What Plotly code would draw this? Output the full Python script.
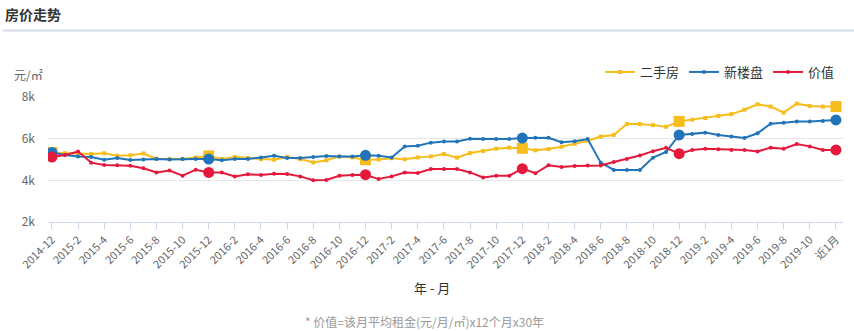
import plotly.graph_objects as go

# ---- data ----
months = ["2014-12"] + [f"{y}-{m}" for y in range(2015, 2020) for m in range(1, 13)][:59] + ["近1月"]

second_hand = [5330, 5300, 5300, 5260, 5300, 5180, 5200, 5290, 5040, 5020, 5030, 5100, 5170,
               5020, 5120, 5070, 5020, 4990, 5120, 5020, 4860, 4960, 5150, 5100, 4990,
               5000, 5060, 5010, 5100, 5150, 5260, 5090, 5310, 5410, 5520, 5570, 5540,
               5440, 5500, 5610, 5750, 5900, 6100, 6180, 6700, 6700, 6650, 6570, 6830,
               6910, 6990, 7090, 7180, 7390, 7650, 7540, 7250, 7680, 7570, 7540, 7540]

new_homes = [5340, 5220, 5150, 5120, 4990, 5070, 4980, 5000, 5020, 5000, 5020, 5030, 5020,
             4960, 5020, 5020, 5100, 5180, 5070, 5070, 5120, 5170, 5140, 5140, 5200,
             5180, 5100, 5630, 5660, 5810, 5860, 5870, 6000, 5990, 5990, 5990, 6030,
             6040, 6040, 5830, 5880, 5980, 4850, 4500, 4500, 4500, 5090, 5360, 6180,
             6220, 6290, 6180, 6110, 6030, 6260, 6720, 6770, 6830, 6830, 6850, 6900]

value = [5120, 5220, 5380, 4850, 4740, 4720, 4700, 4580, 4380, 4470, 4220, 4510, 4380,
         4380, 4190, 4290, 4260, 4320, 4300, 4190, 4000, 4020, 4220, 4260, 4270,
         4060, 4190, 4380, 4350, 4540, 4540, 4540, 4380, 4140, 4220, 4220, 4560,
         4340, 4720, 4640, 4690, 4710, 4710, 4880, 5030, 5190, 5400, 5560, 5280,
         5460, 5520, 5490, 5460, 5460, 5380, 5570, 5520, 5740, 5630, 5460, 5460]

series_names = ["二手房", "新楼盘", "价值"]
y_tick_vals = [2000, 4000, 6000, 8000]
y_tick_text = ["2k", "4k", "6k", "8k"]

colors = ["#f6bd1c", "#2174ba", "#e5193c"]
symbols = ["square", "circle", "circle"]

FONT = "Noto Sans CJK SC, Open Sans, sans-serif"

fig = go.Figure()
big_idx = [i for i in range(len(months)) if i % 12 == 0 or i == len(months) - 1]
for name, ys, c, s in zip(series_names, [second_hand, new_homes, value], colors, symbols):
    fig.add_trace(go.Scatter(
        x=months, y=ys, name=name, mode="lines+markers",
        line=dict(color=c, width=2),
        marker=dict(color=c, size=4, symbol=s),
        hoverinfo="skip",
    ))
    fig.add_trace(go.Scatter(
        x=[months[i] for i in big_idx], y=[ys[i] for i in big_idx],
        mode="markers", showlegend=False,
        marker=dict(color=c, size=11, symbol=s),
        hoverinfo="skip",
    ))

L, R, T, B = 48, 11, 97, 109
W, H = 854, 331
pw, ph = W - L - R, H - T - B

def px(x):
    return (x - L) / pw

def py(y):
    return (H - B - y) / ph

fig.update_layout(
    width=W, height=H,
    margin=dict(l=L, r=R, t=T, b=B),
    paper_bgcolor="white", plot_bgcolor="white",
    font=dict(family=FONT, color="#666666", size=12),
    showlegend=True,
    legend=dict(orientation="h", x=px(840), xanchor="right", y=py(72), yanchor="middle",
                font=dict(size=13, color="#333333"), itemwidth=30,
                bgcolor="rgba(0,0,0,0)"),
    xaxis=dict(
        type="category",
        range=[-0.3, 60.54],
        tickmode="array",
        tickvals=[months[i] for i in range(0, len(months), 2)],
        ticktext=[months[i] for i in range(0, len(months), 2)],
        tickangle=-45,
        tickfont=dict(size=11, color="#666666"),
        ticks="outside", ticklen=6, tickcolor="#ccd6eb",
        showline=True, linecolor="#ccd6eb", linewidth=1,
        showgrid=False, zeroline=False,
    ),
    yaxis=dict(
        range=[2000, 8000],
        tickmode="array", tickvals=y_tick_vals, ticktext=y_tick_text,
        tickfont=dict(size=12, color="#666666"),
        ticks="", ticklabelstandoff=12,
        showgrid=True, gridcolor="#e6e6e6", gridwidth=1,
        zeroline=False, showline=False,
    ),
    annotations=[
        dict(text="<b>房价走势</b>", x=px(3), y=py(14), xref="paper", yref="paper",
             xanchor="left", yanchor="middle", showarrow=False,
             font=dict(size=14, color="#333333")),
        dict(text="元/㎡", x=px(12), y=py(74), xref="paper", yref="paper",
             xanchor="left", yanchor="middle", showarrow=False,
             font=dict(size=12, color="#666666")),
        dict(text="年 - 月", x=px(432), y=py(287), xref="paper", yref="paper",
             xanchor="center", yanchor="middle", showarrow=False,
             font=dict(size=13, color="#333333")),
        dict(text="* 价值=该月平均租金(元/月/㎡)x12个月x30年", x=px(424), y=py(321),
             xref="paper", yref="paper", xanchor="center", yanchor="middle",
             showarrow=False, font=dict(size=12, color="#999999")),
    ],
    shapes=[
        dict(type="line", xref="paper", yref="paper", x0=px(3), x1=px(854),
             y0=py(30.5), y1=py(30.5), line=dict(color="#d3dae4", width=2)),
    ],
)

fig.write_html("out.html")
